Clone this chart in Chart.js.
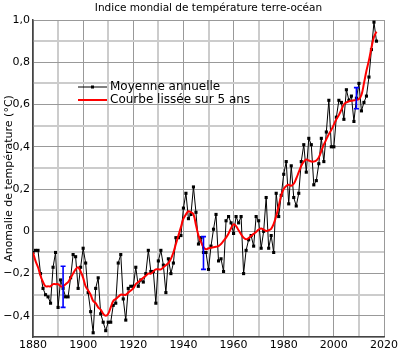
<!DOCTYPE html>
<html>
<head>
<meta charset="utf-8">
<script src="https://cdn.jsdelivr.net/npm/chart.js@4.4.1/dist/chart.umd.min.js"></script>
<style>
  body { margin: 0; background: #fff; }
</style>
</head>
<body>
<canvas id="tempChart" width="400" height="351"></canvas>
<script>
var chartTitle = "Indice mondial de température terre-océan";
var yTitle = "Anomalie de température (°C)";
var seriesNames = ["Moyenne annuelle", "Courbe lissée sur 5 ans"];

var firstYear = 1880;
// annual mean anomaly, 1880 -> 2017
var annual = [
  -0.10, -0.09, -0.09, -0.20, -0.27, -0.30, -0.31, -0.34, -0.17, -0.10,
  -0.36, -0.23, -0.27, -0.31, -0.31, -0.22, -0.11, -0.12, -0.27, -0.17,
  -0.08, -0.15, -0.29, -0.38, -0.48, -0.27, -0.22, -0.39, -0.43, -0.47,
  -0.43, -0.43, -0.35, -0.34, -0.15, -0.11, -0.32, -0.42, -0.27, -0.26,
  -0.26, -0.17, -0.26, -0.23, -0.24, -0.20, -0.09, -0.19, -0.19, -0.34,
  -0.14, -0.09, -0.16, -0.29, -0.13, -0.20, -0.15, -0.03, -0.03, -0.02,
  0.11, 0.18, 0.06, 0.08, 0.21, 0.09, -0.06, -0.03, -0.10, -0.10,
  -0.18, -0.07, 0.01, 0.08, -0.14, -0.13, -0.19, 0.05, 0.07, 0.04,
  -0.01, 0.07, 0.04, 0.07, -0.20, -0.09, -0.04, -0.02, -0.07, 0.07,
  0.05, -0.08, 0.00, 0.16, -0.08, -0.02, -0.10, 0.18, 0.07, 0.17,
  0.27, 0.33, 0.13, 0.31, 0.16, 0.12, 0.18, 0.33, 0.41, 0.28,
  0.44, 0.41, 0.22, 0.24, 0.32, 0.44, 0.33, 0.47, 0.62, 0.40,
  0.40, 0.54, 0.62, 0.61, 0.53, 0.67, 0.62, 0.64, 0.52, 0.63,
  0.70, 0.57, 0.61, 0.64, 0.73, 0.86, 0.99, 0.90
];
// 5-year smoothed curve, same years
var smooth = [
  -0.10, -0.14, -0.17, -0.21, -0.24, -0.26, -0.26, -0.26, -0.25, -0.25,
  -0.25, -0.26, -0.26, -0.25, -0.24, -0.22, -0.20, -0.18, -0.17, -0.19,
  -0.22, -0.26, -0.28, -0.30, -0.33, -0.34, -0.36, -0.37, -0.39, -0.40,
  -0.39, -0.36, -0.33, -0.32, -0.31, -0.30, -0.30, -0.30, -0.29, -0.28,
  -0.27, -0.25, -0.24, -0.23, -0.22, -0.21, -0.20, -0.20, -0.19, -0.18,
  -0.18, -0.18, -0.17, -0.16, -0.15, -0.13, -0.10, -0.06, -0.02, 0.02,
  0.06, 0.08, 0.095, 0.09, 0.08, 0.03, -0.02, -0.05, -0.075, -0.085,
  -0.08, -0.078, -0.075, -0.073, -0.07, -0.06, -0.045, -0.03, -0.01, 0.015,
  0.033, 0.025, 0.005, -0.014, -0.03, -0.038, -0.032, -0.022, -0.012, -0.003,
  0.008, 0.013, 0.008, 0.002, 0.005, 0.012, 0.035, 0.072, 0.12, 0.17,
  0.20, 0.215, 0.22, 0.216, 0.225, 0.25, 0.28, 0.31, 0.33, 0.34,
  0.335, 0.33, 0.33, 0.335, 0.35, 0.38, 0.41, 0.435, 0.46, 0.48,
  0.505, 0.53, 0.55, 0.575, 0.60, 0.61, 0.615, 0.618, 0.62, 0.622,
  0.626, 0.645, 0.70, 0.76, 0.81, 0.87, 0.92, 0.945
];
// uncertainty bars
var errYears = [1892, 1948, 2009];
var errLow = [-0.36, -0.18, 0.58];
var errHigh = [-0.165, -0.025, 0.68];

var yTicks = [-0.4, -0.2, 0, 0.2, 0.4, 0.6, 0.8, 1.0];
var xTicks = [1880, 1900, 1920, 1940, 1960, 1980, 2000, 2020];

function toPoints(vals) {
  return vals.map(function (v, i) { return { x: firstYear + i, y: v }; });
}

function yLabel(v) {
  if (Math.abs(v) < 1e-9) return "0";
  var s = Math.abs(v).toFixed(1).replace(".", ",");
  return (v < 0 ? "\u2212" : "") + s;
}

var FONT = '"DejaVu Sans", sans-serif';

var extras = {
  id: "extras",
  afterDatasetsDraw: function (chart) {
    var ctx = chart.ctx, xs = chart.scales.x, ys = chart.scales.y;
    ctx.save();
    ctx.strokeStyle = "#0000ff";
    ctx.lineWidth = 1.6;
    errYears.forEach(function (yr, i) {
      var px = xs.getPixelForValue(yr);
      var top = ys.getPixelForValue(errHigh[i]);
      var bot = ys.getPixelForValue(errLow[i]);
      ctx.beginPath();
      ctx.moveTo(px, top); ctx.lineTo(px, bot);
      ctx.moveTo(px - 2.5, top); ctx.lineTo(px + 2.5, top);
      ctx.moveTo(px - 2.5, bot); ctx.lineTo(px + 2.5, bot);
      ctx.stroke();
    });
    ctx.restore();
  },
  afterDraw: function (chart) {
    var ctx = chart.ctx, ca = chart.chartArea;
    ctx.save();
    ctx.fillStyle = "#000";
    ctx.textAlign = "center";
    ctx.textBaseline = "middle";
    ctx.font = "10.5px " + FONT;
    ctx.fillText(chartTitle, (ca.left + ca.right) / 2, 8);

    ctx.font = "11px " + FONT;
    ctx.save();
    ctx.translate(9, (ca.top + ca.bottom) / 2);
    ctx.rotate(-Math.PI / 2);
    ctx.fillText(yTitle, 0, 0);
    ctx.restore();

    // legend
    ctx.font = "12px " + FONT;
    ctx.textAlign = "left";
    ctx.strokeStyle = "#000";
    ctx.lineWidth = 1;
    ctx.beginPath(); ctx.moveTo(78, 87); ctx.lineTo(107, 87); ctx.stroke();
    ctx.fillRect(91, 85.5, 3, 3);
    ctx.fillText(seriesNames[0], 110, 87);
    ctx.strokeStyle = "#ff0000";
    ctx.lineWidth = 2;
    ctx.beginPath(); ctx.moveTo(78, 100); ctx.lineTo(107, 100); ctx.stroke();
    ctx.fillText(seriesNames[1], 110, 100);
    ctx.restore();
  }
};

function gridColor(isMajor) { return isMajor ? "#999999" : "#cccccc"; }

var ctx = document.getElementById("tempChart").getContext("2d");
var tempChart = new Chart(ctx, {
  type: "line",
  data: {
    datasets: [
      {
        label: seriesNames[1],
        data: toPoints(smooth),
        borderColor: "#ff0000",
        borderWidth: 2,
        pointRadius: 0,
        tension: 0.4,
        order: 0
      },
      {
        label: seriesNames[0],
        data: toPoints(annual),
        borderColor: "#000000",
        backgroundColor: "#000000",
        borderWidth: 1,
        pointStyle: "rect",
        pointRadius: 2.2,
        pointBorderWidth: 0,
        tension: 0,
        order: 1
      }
    ]
  },
  options: {
    responsive: false,
    animation: false,
    layout: { padding: { top: 20, right: 13, left: 0, bottom: 0 } },
    plugins: {
      legend: { display: false },
      title: { display: false },
      tooltip: { enabled: false }
    },
    scales: {
      x: {
        type: "linear",
        min: 1880,
        max: 2020,
        afterFit: function (s) { s.height = 14; },
        border: { color: "#444", width: 1.5 },
        grid: {
          drawTicks: false,
          color: function (c) { return gridColor(xTicks.indexOf(Math.round(c.tick.value)) >= 0); },
          lineWidth: function (c) { return xTicks.indexOf(Math.round(c.tick.value)) >= 0 ? 1 : 2; }
        },
        ticks: {
          stepSize: 10,
          padding: 2,
          maxRotation: 0,
          autoSkip: false,
          color: "#000",
          font: { family: FONT, size: 11 },
          callback: function (v) { return xTicks.indexOf(Math.round(v)) >= 0 ? String(Math.round(v)) : ""; }
        }
      },
      y: {
        min: -0.5,
        max: 1.0,
        afterFit: function (s) { s.width = 33; },
        border: { color: "#444", width: 1.5 },
        grid: {
          drawTicks: false,
          color: function (c) { return gridColor(Math.round(c.tick.value * 10) % 2 === 0); },
          lineWidth: function (c) { return Math.round(c.tick.value * 10) % 2 === 0 ? 1 : 2; }
        },
        ticks: {
          stepSize: 0.1,
          padding: 3,
          autoSkip: false,
          color: "#000",
          font: { family: FONT, size: 11 },
          callback: function (v) {
            var k = Math.round(v * 10);
            return (k % 2 === 0) ? yLabel(k / 10) : "";
          }
        }
      }
    }
  },
  plugins: [extras]
});
</script>
</body>
</html>
